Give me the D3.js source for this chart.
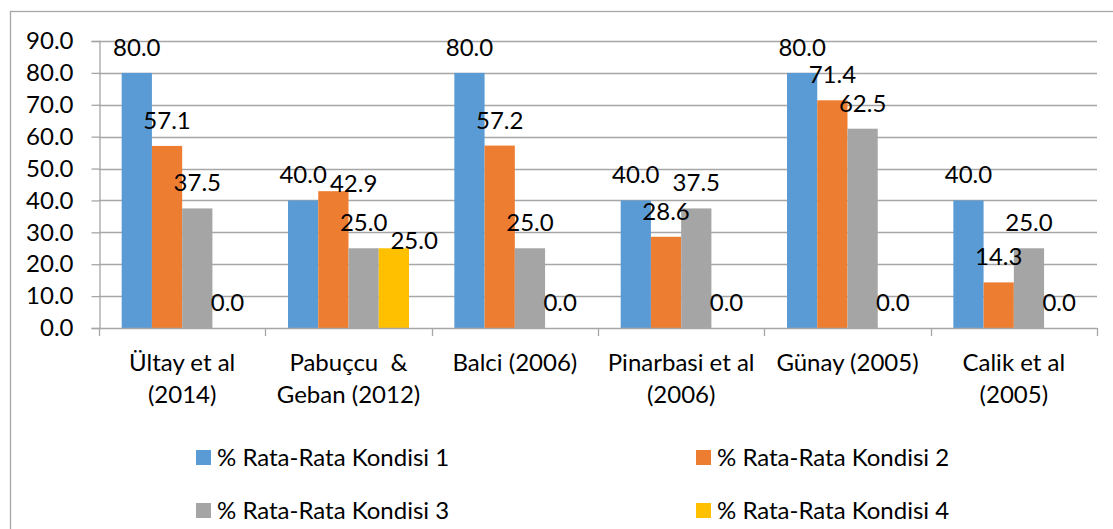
<!DOCTYPE html>
<html>
<head>
<meta charset="utf-8">
<script src="https://cdn.jsdelivr.net/npm/d3@7"></script>
<style>
  html, body { margin: 0; padding: 0; background: #fff; }
  svg { display: block; font-family: Lato, "Open Sans", sans-serif; }
</style>
</head>
<body>
<div id="chart"></div>
<script>
const categories = [
    ['Ültay et al', '(2014)'],
    ['Pabuçcu  &', 'Geban (2012)'],
    ['Balci (2006)'],
    ['Pinarbasi et al', '(2006)'],
    ['Günay (2005)'],
    ['Calik et al', '(2005)']
];
const seriesNames = ['% Rata-Rata Kondisi 1', '% Rata-Rata Kondisi 2', '% Rata-Rata Kondisi 3', '% Rata-Rata Kondisi 4'];
const kondisi1 = [80.0, 40.0, 80.0, 40.0, 80.0, 40.0];
const kondisi2 = [57.1, 42.9, 57.2, 28.6, 71.4, 14.3];
const kondisi3 = [37.5, 25.0, 25.0, 37.5, 62.5, 25.0];
const kondisi4 = [0.0, 25.0, 0.0, 0.0, 0.0, 0.0];
const yTicks = [0, 10, 20, 30, 40, 50, 60, 70, 80, 90];
const colors = ['#5B9BD5', '#ED7D31', '#A5A5A5', '#FFC000'];

const WIDTH = 1113;
const HEIGHT = 529;
const FONT_SIZE = 24;
const GRID_COLOR = '#a6a6a6';

const allSeries = [kondisi1, kondisi2, kondisi3, kondisi4];
const catIndex = categories.map((c, i) => i);

const svg = d3.select('#chart')
    .append('svg')
    .attr('width', WIDTH)
    .attr('height', HEIGHT);

// outer chart frame, runs off the right and bottom edges like the original
svg.append('rect')
    .attr('x', 10.5).attr('y', 11.5)
    .attr('width', WIDTH + 20).attr('height', HEIGHT + 20)
    .attr('fill', 'none')
    .attr('stroke', GRID_COLOR)
    .attr('stroke-width', 1.3);

const yScale = d3.scaleLinear()
    .domain([0, 90])
    .range([328, 41]);

const xScale = d3.scaleBand()
    .domain(catIndex)
    .range([99, 1097])
    .paddingInner(0)
    .paddingOuter(0);

const seriesScale = d3.scaleBand()
    .domain(d3.range(allSeries.length))
    .range([0, xScale.bandwidth()])
    .paddingInner(0)
    .paddingOuter(0.75);

// gridlines
svg.append('g')
    .selectAll('line')
    .data(yTicks.filter(t => t > 0))
    .join('line')
    .attr('x1', 99).attr('x2', 1097)
    .attr('y1', d => Math.round(yScale(d)) + 0.5)
    .attr('y2', d => Math.round(yScale(d)) + 0.5)
    .attr('stroke', GRID_COLOR)
    .attr('stroke-width', 1.3);

// bars
allSeries.forEach((values, s) => {
    svg.append('g')
        .selectAll('rect')
        .data(values)
        .join('rect')
        .attr('x', (d, i) => xScale(i) + seriesScale(s))
        .attr('y', d => yScale(d))
        .attr('width', seriesScale.bandwidth())
        .attr('height', d => yScale(0) - yScale(d))
        .attr('fill', colors[s]);
});

// y axis
const yAxis = d3.axisLeft(yScale)
    .tickValues(yTicks)
    .tickSize(8)
    .tickPadding(18)
    .tickFormat(d3.format('.1f'));

const yAxisGroup = svg.append('g')
    .attr('transform', 'translate(99.5, 0)')
    .call(yAxis);
yAxisGroup.select('.domain').attr('stroke', GRID_COLOR).attr('stroke-width', 1.3);
yAxisGroup.selectAll('.tick line').attr('stroke', GRID_COLOR).attr('stroke-width', 1.3);
yAxisGroup.selectAll('.tick text')
    .attr('font-size', FONT_SIZE)
    .attr('font-family', 'Lato, "Open Sans", sans-serif')
    .attr('fill', '#000');

// x axis line and boundary ticks
const xAxisGroup = svg.append('g');
xAxisGroup.append('line')
    .attr('x1', 99).attr('x2', 1097)
    .attr('y1', yScale(0) + 0.5).attr('y2', yScale(0) + 0.5)
    .attr('stroke', GRID_COLOR)
    .attr('stroke-width', 1.3);
xAxisGroup.selectAll('line.boundary')
    .data(catIndex.concat([categories.length]))
    .join('line')
    .attr('class', 'boundary')
    .attr('x1', i => Math.round(i < categories.length ? xScale(i) : xScale.range()[1]) + 0.5)
    .attr('x2', i => Math.round(i < categories.length ? xScale(i) : xScale.range()[1]) + 0.5)
    .attr('y1', yScale(0))
    .attr('y2', yScale(0) + 8)
    .attr('stroke', GRID_COLOR)
    .attr('stroke-width', 1.3);

// category labels
const catLabels = svg.append('g')
    .selectAll('text')
    .data(categories)
    .join('text')
    .attr('x', (d, i) => xScale(i) + xScale.bandwidth() / 2)
    .attr('y', 371)
    .attr('text-anchor', 'middle')
    .attr('font-size', FONT_SIZE)
    .attr('fill', '#000')
    .style('white-space', 'pre');
catLabels.selectAll('tspan')
    .data(d => d)
    .join('tspan')
    .attr('x', function () { return d3.select(this.parentNode).attr('x'); })
    .attr('dy', (d, j) => j === 0 ? 0 : 32)
    .text(d => d);

// value labels; when one would collide with the previous label in its group,
// drop it to the bar top and push it right (as the spreadsheet did)
const labelGroup = svg.append('g');
catIndex.forEach(i => {
    let prevRight = -Infinity;
    let prevBase = null;
    allSeries.forEach((values, s) => {
        const v = values[i];
        const cx = xScale(i) + seriesScale(s) + seriesScale.bandwidth() / 2;
        const baseline = yScale(v) - 17;
        const t = labelGroup.append('text')
            .attr('x', cx)
            .attr('y', baseline)
            .attr('text-anchor', 'middle')
            .attr('font-size', FONT_SIZE)
            .attr('fill', '#000')
            .text(d3.format('.1f')(v));
        const box = t.node().getBBox();
        const overlapsVert = prevBase !== null && Math.abs(baseline - prevBase) < 18;
        if (box.x < prevRight && overlapsVert) {
            t.attr('x', cx + (prevRight + 3 - box.x))
                .attr('y', yScale(v) + 1);
        }
        const nb = t.node().getBBox();
        prevRight = nb.x + nb.width;
        prevBase = +t.attr('y');
    });
});

// legend
const legendItems = seriesNames.map((name, s) => ({ name, s }));
const legend = svg.append('g')
    .selectAll('g')
    .data(legendItems)
    .join('g')
    .attr('transform', d => 'translate(' + (d.s % 2 === 0 ? 196 : 696) + ',' + (d.s < 2 ? 450 : 503) + ')');
legend.append('rect')
    .attr('width', 15)
    .attr('height', 15)
    .attr('fill', d => colors[d.s]);
legend.append('text')
    .attr('x', 21)
    .attr('y', 16)
    .attr('font-size', FONT_SIZE)
    .attr('fill', '#000')
    .text(d => d.name);
</script>
</body>
</html>
